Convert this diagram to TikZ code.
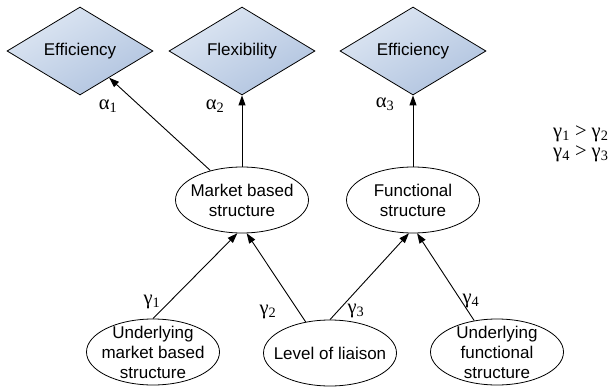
\documentclass[tikz,border=0pt]{standalone}
\usepackage{fontspec}
\setmainfont{Liberation Sans}
\newfontfamily\grkfont{Liberation Serif}
\usepackage{tikz}
\usetikzlibrary{shapes.geometric, arrows.meta, positioning}
\definecolor{diatop}{RGB}{222,231,243}
\definecolor{diabot}{RGB}{176,195,223}
\tikzstyle{goal} = [diamond, draw=black, line width=0.8pt, top color=diatop, bottom color=diabot, shading angle=30, aspect=1.66, minimum width=146pt, minimum height=88pt, inner sep=0pt, font=\fontsize{17}{20}\selectfont]
\tikzstyle{blob} = [ellipse, draw=black, line width=0.8pt, fill=white, minimum width=133pt, minimum height=66pt, inner sep=0pt]
\tikzstyle{inner} = [align=center, font=\fontsize{17}{20}\selectfont]
\tikzstyle{arrow} = [line width=0.9pt, -{Triangle[length=10pt,width=7pt]}, draw=black]
\tikzstyle{coef} = [font=\grkfont\fontsize{20.5}{20}\selectfont, inner sep=0pt]
\newcommand{\gsub}[2]{#1\textsubscript{#2}}

\begin{document}
\begin{tikzpicture}[x=1pt, y=-1pt]
    \useasboundingbox (0,0) rectangle (611,388);
    % goals
    \node (eff1) [goal] at (80,51) {Efficiency};
    \node (flex) [goal] at (242,51) {Flexibility};
    \node (eff2) [goal] at (413,51) {Efficiency};
    % structures
    \node (mkt) [blob, label={[inner]center:Market based\\structure}] at (242,200) {};
    \node (func) [blob, label={[inner]center:Functional\\structure}] at (413,200) {};
    \node (umkt) [blob, label={[inner]center:Underlying\\market based\\structure}] at (153,352) {};
    \node (lvl) [blob, label={[inner]center:Level of liaison}] at (330,353) {};
    \node (ufunc) [blob, label={[inner]center:Underlying\\functional\\structure}] at (497,352) {};

    \draw [arrow] (mkt.137) -- (eff1);
    \draw [arrow] (mkt) -- (flex);
    \draw [arrow] (func) -- (eff2);
    \draw [arrow] (umkt.north) -- (mkt.262);
    \draw [arrow] (lvl.128) -- (mkt.278);
    \draw [arrow] (lvl.north) -- (func.263);
    \draw [arrow] (ufunc.126) -- (func.277);

    % coefficients
    \node (a1) [coef] at (108,106) {\gsub{α}{1}};
    \node (a2) [coef] at (215,106) {\gsub{α}{2}};
    \node (a3) [coef] at (385,104) {\gsub{α}{3}};
    \node (g1) [coef] at (152,302) {\gsub{γ}{1}};
    \node (g2) [coef] at (268,312) {\gsub{γ}{2}};
    \node (g3) [coef] at (356,311) {\gsub{γ}{3}};
    \node (g4) [coef] at (471,301) {\gsub{γ}{4}};
    \node (rel) [coef, align=left, anchor=west] at (553,144) {\gsub{γ}{1} > \gsub{γ}{2}\\\gsub{γ}{4} > \gsub{γ}{3}};
\end{tikzpicture}
\end{document}
